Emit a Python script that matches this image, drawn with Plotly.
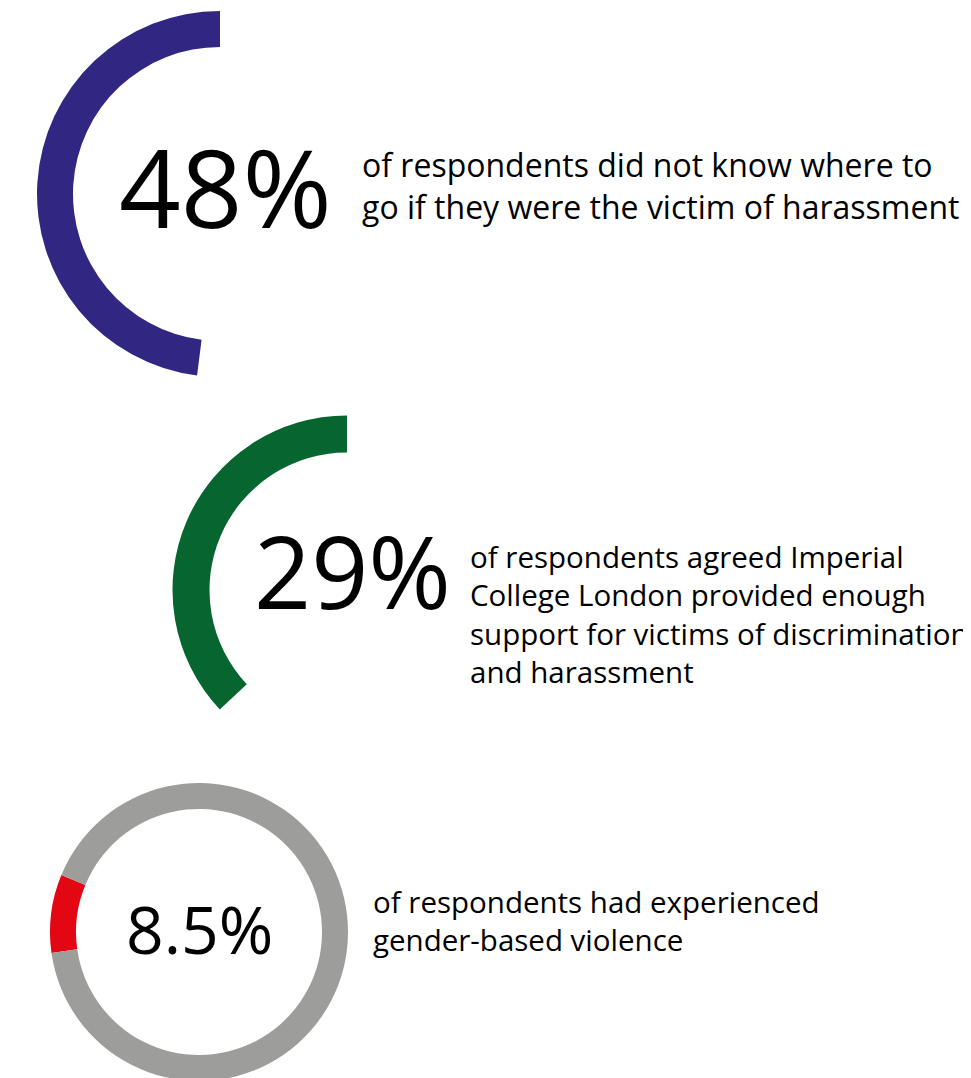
import plotly.graph_objects as go

# ---------------- data ----------------
headline = ["48%", "29%", "8.5%"]
# share of the full circle covered by the coloured arc, as drawn in the picture
arc_share = [48, 37, 8.5]
descriptions = [
    "of respondents did not know where to<br>go if they were the victim of harassment",
    "of respondents agreed Imperial<br>College London provided enough<br>support for victims of discrimination<br>and harassment",
    "of respondents had experienced<br>gender-based violence",
]

# ---------------- styling / layout ----------------
W, H = 971, 1078
OFF = 8  # the page body adds an 8px margin; positions below are in picture pixels
arc_colors = ["#312783", "#07652f", "#e30613"]
rest_colors = ["rgba(0,0,0,0)", "rgba(0,0,0,0)", "#9d9d9c"]
centers = [(220, 194), (347, 590), (199, 932)]   # pixel centres of the rings
radii = [183, 174.5, 149]
thickness = [36, 37, 26]
arc_first = [False, False, True]
directions = ["counterclockwise", "counterclockwise", "clockwise"]
rotations = [0, 0, -98.1]
big_font = [108, 100, 66]
big_pos = [(225, 186.5), (352.5, 570), (199.5, 928)]
desc_font = [32, 29.5, 29.5]
desc_pos = [(360, 185), (468, 614), (371, 920)]
FONT = "Open Sans"

fig = go.Figure()

for i in range(len(headline)):
    cx, cy = centers[i][0] - OFF, centers[i][1] - OFF
    r = radii[i]
    yb = H - cy
    if arc_first[i]:
        vals = [arc_share[i], 100 - arc_share[i]]
        cols = [arc_colors[i], rest_colors[i]]
    else:
        vals = [100 - arc_share[i], arc_share[i]]
        cols = [rest_colors[i], arc_colors[i]]
    fig.add_trace(go.Pie(
        values=vals,
        labels=["a", "b"],
        sort=False,
        direction=directions[i],
        rotation=rotations[i],
        hole=1 - thickness[i] / r,
        marker=dict(colors=cols, line=dict(width=0)),
        textinfo="none",
        hoverinfo="skip",
        showlegend=False,
        domain=dict(x=[max(0, (cx - r) / W), min(1, (cx + r) / W)],
                    y=[max(0, (yb - r) / H), min(1, (yb + r) / H)]),
    ))

annotations = []
for i in range(len(headline)):
    bx, by = big_pos[i][0] - OFF, big_pos[i][1] - OFF
    annotations.append(dict(
        text=headline[i], xref="paper", yref="paper",
        x=bx / W, y=1 - by / H, xanchor="center", yanchor="middle",
        showarrow=False, font=dict(family=FONT, size=big_font[i], color="#000000"),
    ))
    dx, dy = desc_pos[i][0] - OFF, desc_pos[i][1] - OFF
    annotations.append(dict(
        text=descriptions[i], xref="paper", yref="paper",
        x=dx / W, y=1 - dy / H, xanchor="left", yanchor="middle", align="left",
        showarrow=False, font=dict(family=FONT, size=desc_font[i], color="#000000"),
    ))

fig.update_layout(
    width=W, height=H,
    margin=dict(l=0, r=0, t=0, b=0),
    paper_bgcolor="white", plot_bgcolor="white",
    annotations=annotations,
)

fig.write_html("out.html", config={"displayModeBar": False})
